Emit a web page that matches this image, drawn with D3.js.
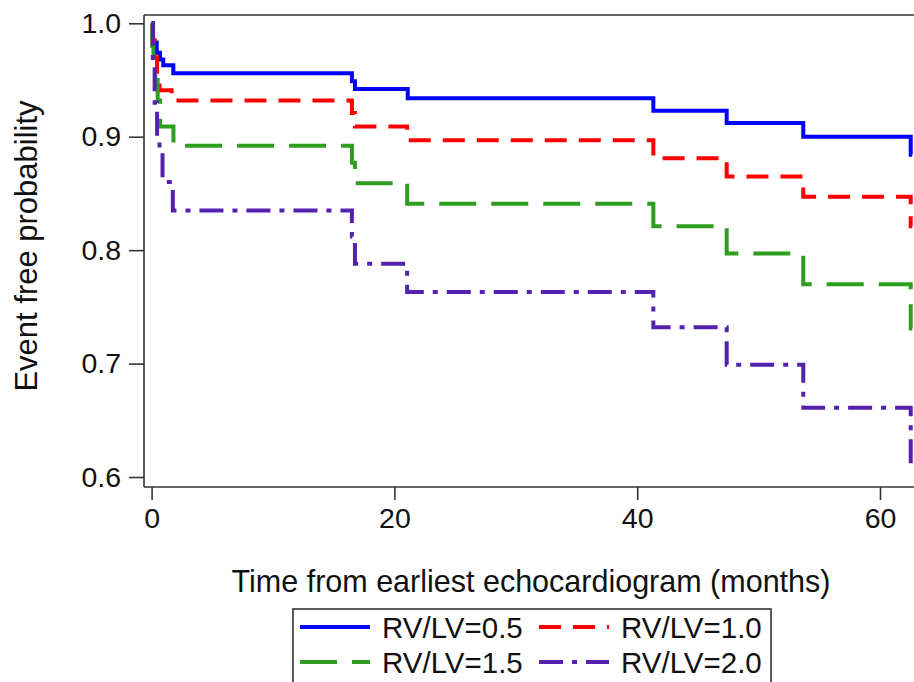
<!DOCTYPE html>
<html>
<head>
<meta charset="utf-8">
<script src="https://cdn.jsdelivr.net/npm/d3@7"></script>
<style>
  body { margin: 0; background: #fff; }
  text { font-family: "Liberation Sans", Arial, sans-serif; fill: #111; }
</style>
</head>
<body>
<div id="svgcontainer"></div>
<script>
// series labels
var groups = ["RV/LV=0.5", "RV/LV=1.0", "RV/LV=1.5", "RV/LV=2.0"];

// step times (months) and event free probability
var timeA = [0, 0.12, 0.42, 0.69, 0.96, 1.79, 16.5, 16.75, 21.1, 41.33, 47.37, 53.68, 62.53, 62.65];
var survA = [1.0, 0.983, 0.974, 0.968, 0.963, 0.956, 0.949, 0.942, 0.934, 0.923, 0.912, 0.900, 0.884, 0.884];

var timeB = [0, 0.1, 0.25, 0.45, 0.65, 1.65, 16.5, 16.75, 21.05, 41.33, 47.37, 53.68, 62.53, 62.65];
var survB = [1.0, 0.985, 0.97, 0.955, 0.941, 0.932, 0.921, 0.909, 0.897, 0.881, 0.865, 0.847, 0.821, 0.821];

var timeC = [0, 0.05, 0.15, 0.3, 0.5, 0.7, 1.8, 16.5, 16.75, 21.05, 41.33, 47.37, 53.68, 62.53, 62.65];
var survC = [1.0, 0.98, 0.966, 0.95, 0.932, 0.909, 0.892, 0.877, 0.859, 0.841, 0.821, 0.797, 0.770, 0.731, 0.731];

var timeD = [0, 0.1, 0.25, 0.45, 0.65, 0.9, 1.75, 16.5, 16.75, 21.05, 41.33, 47.37, 53.68, 62.53, 62.65];
var survD = [1.0, 0.966, 0.93, 0.90, 0.888, 0.86, 0.835, 0.812, 0.788, 0.763, 0.732, 0.699, 0.661, 0.610, 0.610];

var xTicks = [0, 20, 40, 60];
var yTicks = [0.6, 0.7, 0.8, 0.9, 1.0];

var colors = ["#0000ff", "#ff0000", "#2e9e1e", "#5522b0"];
var dashes = ["none", "22,12", "37,15", "24,9,5,9"];

var W = 914, H = 682;
var margin = {top: 15, right: 0, bottom: 195, left: 144};

var x = d3.scaleLinear().domain([0, 60]).range([151.6, 880]);
var y = d3.scaleLinear().domain([0.6, 1.0]).range([477, 23.3]);

var svg = d3.select("#svgcontainer").append("svg")
    .attr("width", W)
    .attr("height", H);

var plotBottom = H - margin.bottom;   // 487

// top border of the frame
svg.append("line")
    .attr("x1", margin.left).attr("x2", W)
    .attr("y1", margin.top).attr("y2", margin.top)
    .attr("stroke", "#333")
    .attr("stroke-width", 1.6);

var series = [
  {name: groups[0], t: timeA, s: survA},
  {name: groups[1], t: timeB, s: survB},
  {name: groups[2], t: timeC, s: survC},
  {name: groups[3], t: timeD, s: survD}
];

var line = d3.line()
    .x(function(d) { return x(d[0]); })
    .y(function(d) { return y(d[1]); })
    .curve(d3.curveStepAfter);

svg.append("g").selectAll("path")
    .data(series)
    .enter()
    .append("path")
    .attr("d", function(d) { return line(d3.zip(d.t, d.s)); })
    .attr("fill", "none")
    .attr("stroke", function(d, i) { return colors[i]; })
    .attr("stroke-width", 4)
    .attr("stroke-dasharray", function(d, i) { return dashes[i]; });

// axes
var yAxis = svg.append("g")
    .attr("transform", "translate(" + margin.left + ",0)")
    .call(d3.axisLeft(y).tickValues(yTicks).tickFormat(d3.format(".1f")).tickSizeInner(15).tickSizeOuter(0).tickPadding(8));

var xAxis = svg.append("g")
    .attr("transform", "translate(0," + plotBottom + ")")
    .call(d3.axisBottom(x).tickValues(xTicks).tickSizeInner(13).tickSizeOuter(0).tickPadding(8));

yAxis.select(".domain").attr("d", "M0," + margin.top + "V" + plotBottom);
xAxis.select(".domain").attr("d", "M" + margin.left + ",0H" + W);

[yAxis, xAxis].forEach(function(a) {
  a.selectAll("path, line").attr("stroke", "#333").attr("stroke-width", 1.6);
  a.selectAll("text").style("font-size", "28.5px").style("fill", "#111");
});

svg.append("text")
    .attr("transform", "translate(37,246) rotate(-90)")
    .attr("text-anchor", "middle")
    .style("font-size", "31px")
    .text("Event free probability");

svg.append("text")
    .attr("x", 531)
    .attr("y", 592)
    .attr("text-anchor", "middle")
    .style("font-size", "30.5px")
    .text("Time from earliest echocardiogram (months)");

// legend
var legend = svg.append("g");
legend.append("rect")
    .attr("x", 293).attr("y", 609)
    .attr("width", 478).attr("height", 90)
    .attr("fill", "none").attr("stroke", "#333").attr("stroke-width", 1.6);

var lx = [300, 539], ly = [627, 662];
var items = legend.selectAll("g.item")
    .data(series)
    .enter()
    .append("g")
    .attr("class", "item")
    .attr("transform", function(d, i) { return "translate(" + lx[i % 2] + "," + ly[Math.floor(i / 2)] + ")"; });

items.append("line")
    .attr("x1", 0).attr("x2", 70)
    .attr("stroke", function(d, i) { return colors[i]; })
    .attr("stroke-width", 4)
    .attr("stroke-dasharray", function(d, i) { return dashes[i]; });

items.append("text")
    .attr("x", 82)
    .attr("dy", "0.36em")
    .style("font-size", "29.5px")
    .text(function(d) { return d.name; });
</script>
</body>
</html>
